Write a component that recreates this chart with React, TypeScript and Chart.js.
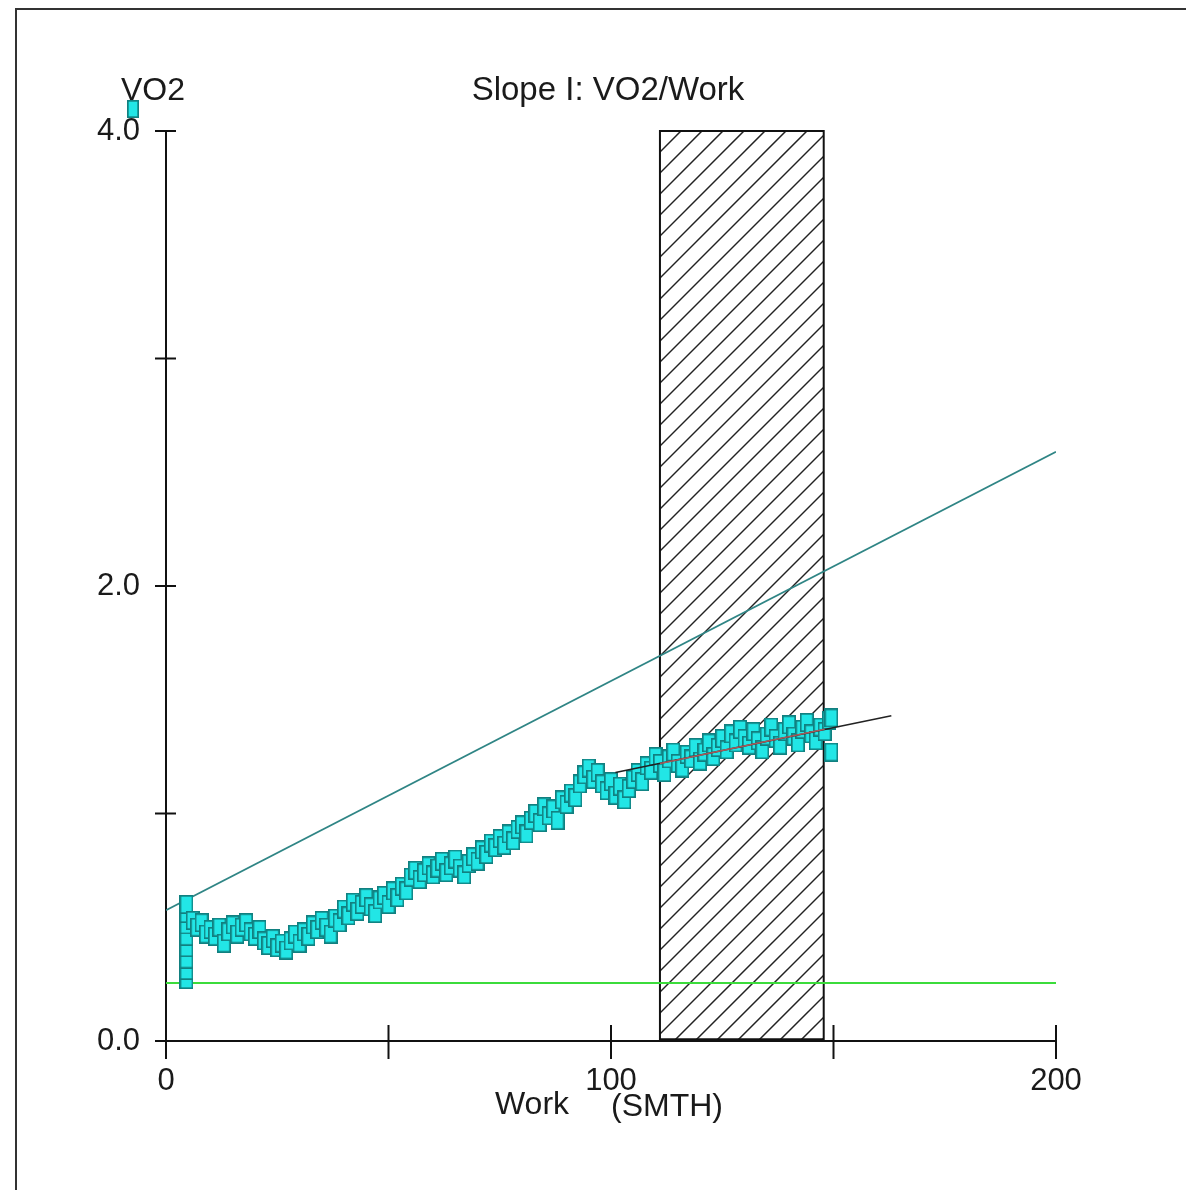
import React, { useEffect, useRef } from "react";
import { Chart, registerables } from "chart.js";

Chart.register(...registerables);

// ---- data ----
const workX = [
  4.6, 4.6, 4.6, 4.6, 4.6, 4.6, 4.6, 4.6,
  6, 7, 8, 9, 10, 11, 12, 13, 14, 15,
  16, 17, 18, 19, 20, 21, 22, 23, 24, 25,
  26, 27, 28, 29, 30, 31, 32, 33, 34, 35,
  36, 37, 38, 39, 40, 41, 42, 43, 44, 45,
  46, 47, 48, 49, 50, 51, 52, 53, 54, 55,
  56, 57, 58, 59, 60, 61, 62, 63, 64, 65,
  66, 67, 68, 69, 70, 71, 72, 73, 74, 75,
  76, 77, 78, 79, 80, 81, 82, 83, 84, 85,
  86, 87, 88, 89, 90, 91, 92, 93, 94, 95,
  96, 97, 98, 99, 100, 101, 102, 103, 104, 105,
  106, 107, 108, 109, 110, 111, 112, 113, 114, 115,
  116, 117, 118, 119, 120, 121, 122, 123, 124, 125,
  126, 127, 128, 129, 130, 131, 132, 133, 134, 135,
  136, 137, 138, 139, 140, 141, 142, 143, 144, 145,
  146, 147, 148, 149, 149.5, 149.5,
];
const vo2 = [
  0.27, 0.31, 0.36, 0.41, 0.46, 0.51, 0.56, 0.6,
  0.53, 0.5, 0.52, 0.47, 0.49, 0.46, 0.5, 0.43, 0.48, 0.51,
  0.47, 0.5, 0.52, 0.48, 0.46, 0.49, 0.44, 0.42, 0.45, 0.41,
  0.43, 0.4, 0.44, 0.47, 0.43, 0.48, 0.46, 0.51, 0.49, 0.53,
  0.5, 0.47, 0.54, 0.52, 0.58, 0.55, 0.61, 0.57, 0.6, 0.63,
  0.59, 0.56, 0.62, 0.64, 0.6, 0.66, 0.63, 0.68, 0.66, 0.72,
  0.75, 0.71, 0.74, 0.77, 0.73, 0.76, 0.79, 0.74, 0.77, 0.8,
  0.76, 0.73, 0.78, 0.81, 0.79, 0.84, 0.82, 0.87, 0.85, 0.89,
  0.86, 0.91, 0.88, 0.93, 0.95, 0.91, 0.97, 1.0, 0.96, 1.03,
  0.99, 1.02, 0.97, 1.06, 1.04, 1.09, 1.07, 1.13, 1.17, 1.2,
  1.15, 1.18, 1.13, 1.1, 1.14, 1.08, 1.12, 1.06, 1.11, 1.15,
  1.18, 1.14, 1.21, 1.19, 1.25, 1.22, 1.18, 1.24, 1.27, 1.22,
  1.2, 1.26, 1.24, 1.29, 1.23, 1.27, 1.31, 1.25, 1.29, 1.33,
  1.28, 1.35, 1.31, 1.37, 1.33, 1.3, 1.36, 1.32, 1.28, 1.34,
  1.38, 1.33, 1.3, 1.36, 1.39, 1.34, 1.31, 1.37, 1.4, 1.35,
  1.32, 1.38, 1.36, 1.41, 1.27, 1.42,
];
const baselineX = [0, 200];
const baselineY = [0.255, 0.255];
const refLineX = [0, 200];
const refLineY = [0.575, 2.59];
const fitLineX = [101, 163];
const fitLineY = [1.18, 1.43];
const fitInnerX = [111, 148];
const fitInnerY = [1.22, 1.37];
const hatchRange = [111, 147.8];
const xTickLabels = ["0", "100", "200"];
const yTickLabels = ["0.0", "2.0", "4.0"];
const chartTitle = "Slope I: VO2/Work";
const yAxisName = "VO2";
const xAxisName = ["Work", "(SMTH)"];

const FONT = "'Liberation Sans', Arial, sans-serif";
const TEXT = "#1a1a1a";

function makeMarker(w: number, h: number): HTMLCanvasElement {
  const c = document.createElement("canvas");
  c.width = w;
  c.height = h;
  const g = c.getContext("2d")!;
  g.fillStyle = "#22e6e6";
  g.fillRect(0, 0, w, h);
  g.strokeStyle = "#118080";
  g.lineWidth = 1.7;
  g.strokeRect(0.85, 0.85, w - 1.7, h - 1.7);
  return c;
}

const pts = (xs: number[], ys: number[]) => xs.map((x, i) => ({ x, y: ys[i] }));

export default function App() {
  const ref = useRef<HTMLCanvasElement>(null);

  useEffect(() => {
    const marker = makeMarker(14, 19);
    const legendMarker = makeMarker(12, 18);

    const decor = {
      id: "decor",
      beforeDatasetsDraw(chart: any) {
        const { ctx, scales } = chart;
        const xs = scales.x, ys = scales.y;
        // hatched box
        const l = xs.getPixelForValue(hatchRange[0]);
        const r = xs.getPixelForValue(hatchRange[1]);
        const t = ys.getPixelForValue(4);
        const b = ys.getPixelForValue(0);
        ctx.save();
        ctx.beginPath();
        ctx.rect(l, t, r - l, b - t);
        ctx.clip();
        ctx.strokeStyle = "#222";
        ctx.lineWidth = 1.5;
        const h = b - t;
        for (let x0 = l - h; x0 < r + 5; x0 += 21) {
          ctx.beginPath();
          ctx.moveTo(x0, b);
          ctx.lineTo(x0 + h, t);
          ctx.stroke();
        }
        ctx.restore();
        ctx.save();
        ctx.strokeStyle = "#111";
        ctx.lineWidth = 2;
        ctx.strokeRect(l, t, r - l, b - t);
        ctx.lineWidth = 3.5;
        ctx.beginPath();
        ctx.moveTo(l, b - 1);
        ctx.lineTo(r, b - 1);
        ctx.stroke();
        ctx.restore();

        // axes
        ctx.save();
        ctx.strokeStyle = "#111";
        ctx.lineWidth = 2;
        const x0p = xs.getPixelForValue(0);
        const y0p = ys.getPixelForValue(0);
        ctx.beginPath();
        ctx.moveTo(x0p, ys.getPixelForValue(4));
        ctx.lineTo(x0p, y0p);
        ctx.moveTo(x0p, y0p);
        ctx.lineTo(xs.getPixelForValue(200), y0p);
        ctx.stroke();
        ys.ticks.forEach((tk: any) => {
          const py = ys.getPixelForValue(tk.value);
          ctx.beginPath();
          ctx.moveTo(x0p - 11, py);
          ctx.lineTo(x0p + 10, py);
          ctx.stroke();
        });
        xs.ticks.forEach((tk: any) => {
          const px = xs.getPixelForValue(tk.value);
          ctx.beginPath();
          ctx.moveTo(px, tk.value === 0 ? y0p : y0p - 16);
          ctx.lineTo(px, y0p + 18);
          ctx.stroke();
        });
        ctx.restore();
      },
      afterDraw(chart: any) {
        const { ctx, chartArea } = chart;
        ctx.save();
        ctx.fillStyle = TEXT;
        ctx.textBaseline = "middle";
        ctx.textAlign = "center";
        const cx = (chartArea.left + chartArea.right) / 2;
        ctx.font = `33px ${FONT}`;
        ctx.fillText(chartTitle, cx - 3, chartArea.top - 40);
        ctx.font = `32px ${FONT}`;
        ctx.fillText(yAxisName, chartArea.left - 13, chartArea.top - 40);
        ctx.fillText(xAxisName[0], cx - 79, chartArea.bottom + 64);
        ctx.fillText(xAxisName[1], cx + 56, chartArea.bottom + 66);
        ctx.drawImage(legendMarker, chartArea.left - 39, chartArea.top - 31);
        ctx.restore();
      },
    };

    const chart = new Chart(ref.current!, {
      type: "scatter",
      data: {
        datasets: [
          {
            label: "fitInner",
            data: pts(fitInnerX, fitInnerY),
            showLine: true,
            borderColor: "rgba(185,95,95,0.9)",
            borderWidth: 1.5,
            pointRadius: 0,
            order: 0,
          },
          {
            label: "fit",
            data: pts(fitLineX, fitLineY),
            showLine: true,
            borderColor: "#222",
            borderWidth: 1.6,
            pointRadius: 0,
            order: 1,
          },
          {
            label: "VO2",
            data: pts(workX, vo2),
            pointStyle: marker as any,
            pointRadius: 7,
            order: 2,
          },
          {
            label: "ref",
            data: pts(refLineX, refLineY),
            showLine: true,
            borderColor: "#2f8585",
            borderWidth: 1.8,
            pointRadius: 0,
            order: 3,
          },
          {
            label: "base",
            data: pts(baselineX, baselineY),
            showLine: true,
            borderColor: "#3bdc3b",
            borderWidth: 2,
            pointRadius: 0,
            order: 4,
          },
        ],
      },
      options: {
        responsive: false,
        devicePixelRatio: 1,
        animation: false,
        events: [],
        layout: { padding: { left: 66, right: 130, top: 131, bottom: 59 } },
        plugins: { legend: { display: false }, tooltip: { enabled: false }, title: { display: false } },
        scales: {
          x: {
            type: "linear",
            min: 0,
            max: 200,
            grid: { display: false, drawTicks: false },
            border: { display: false },
            ticks: {
              stepSize: 50,
              autoSkip: false,
              maxRotation: 0,
              padding: 22,
              color: TEXT,
              font: { size: 31, family: FONT },
              callback: (v: any) => {
                const idx = [0, 100, 200].indexOf(Number(v));
                return idx >= 0 ? xTickLabels[idx] : "";
              },
            },
            afterFit: (s: any) => {
              s.height = 90;
            },
          },
          y: {
            type: "linear",
            min: 0,
            max: 4,
            grid: { display: false, drawTicks: false },
            border: { display: false },
            ticks: {
              stepSize: 1,
              autoSkip: false,
              padding: 26,
              color: TEXT,
              font: { size: 31, family: FONT },
              callback: (v: any) => {
                const idx = [0, 2, 4].indexOf(Number(v));
                return idx >= 0 ? yTickLabels[idx] : "";
              },
            },
            afterFit: (s: any) => {
              s.width = 100;
            },
          },
        },
      },
      plugins: [decor],
    });
    return () => chart.destroy();
  }, []);

  return (
    <div style={{ position: "absolute", left: 0, top: 0, width: 1186, height: 1190, background: "#fff", overflow: "hidden" }}>
      <div
        style={{
          position: "absolute",
          left: 15,
          top: 8,
          width: 1171,
          height: 1182,
          borderTop: "2px solid #333",
          borderLeft: "2px solid #333",
          boxSizing: "border-box",
        }}
      />
      <canvas ref={ref} width={1186} height={1190} style={{ position: "absolute", left: 0, top: 0 }} />
    </div>
  );
}
